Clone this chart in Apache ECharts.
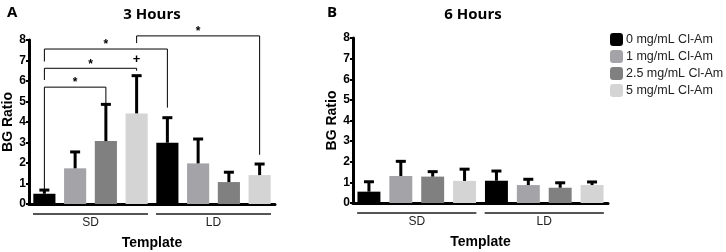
<!DOCTYPE html>
<html>
<head>
<meta charset="utf-8">
<script src="https://cdn.jsdelivr.net/npm/echarts@6/dist/echarts.min.js"></script>
<style>
  html, body { margin: 0; padding: 0; background: #fff; }
  #chart { width: 726px; height: 252px; }
</style>
</head>
<body>
<div id="chart"></div>
<script>
// groups and concentrations
const templates = ['SD', 'LD'];
const concentrations = ['0 mg/mL Cl-Am', '1 mg/mL Cl-Am', '2.5 mg/mL Cl-Am', '5 mg/mL Cl-Am'];
const barColors = ['#000000', '#a4a4a8', '#808080', '#d4d4d4'];
const slots = ['SD 0', 'SD 1', 'SD 2.5', 'SD 5', 'LD 0', 'LD 1', 'LD 2.5', 'LD 5'];
const yTicks = [0, 1, 2, 3, 4, 5, 6, 7, 8];

// bar means and top of error bar
const mean3h = [0.5, 1.74, 3.07, 4.42, 2.99, 1.98, 1.07, 1.41];
const top3h = [0.68, 2.54, 4.86, 6.26, 4.21, 3.17, 1.55, 1.95];
const mean6h = [0.55, 1.31, 1.28, 1.07, 1.08, 0.87, 0.74, 0.87];
const top6h = [1.03, 2.02, 1.52, 1.64, 1.55, 1.15, 0.98, 1.02];

// significance brackets (3 h): from, to, level, left end, right end, mark
const brackets3h = [
  [0, 2, 5.7, 0.72, 4.9, '*'],
  [0, 3, 6.62, 6.05, 6.5, '*'],
  [0, 4, 7.56, 6.95, 4.7, '*'],
  [3, 7, 8.2, 7.85, 2.4, '*']
];
const plusMarks3h = [[3, 6.62, '+']];

const fontFamily = 'Liberation Sans';

const chart = echarts.init(document.getElementById('chart'));

const grids = [
  { left: 29, top: 40, width: 246, height: 164, outerBoundsMode: 'none' },
  { left: 353, top: 38, width: 255, height: 165, outerBoundsMode: 'none' }
];

function barSeries(gi, means) {
  return concentrations.map((name, ci) => ({
    name: name,
    type: 'bar',
    stack: 'g' + gi,
    xAxisIndex: gi * 2,
    yAxisIndex: gi,
    barWidth: '72%',
    itemStyle: { color: barColors[ci] },
    data: means.map((v, i) => (i % 4 === ci ? v : '-'))
  }));
}

function errorSeries(gi, means, tops) {
  return {
    type: 'custom',
    xAxisIndex: gi * 2,
    yAxisIndex: gi,
    z: 5,
    data: means.map((v, i) => [i, v, tops[i]]),
    renderItem: (params, api) => {
      const a = api.coord([api.value(0), api.value(1)]);
      const b = api.coord([api.value(0), api.value(2)]);
      const style = { stroke: '#000', lineWidth: 3 };
      return {
        type: 'group',
        children: [
          { type: 'line', shape: { x1: a[0], y1: a[1], x2: b[0], y2: b[1] }, style },
          { type: 'line', shape: { x1: b[0] - 5, y1: b[1], x2: b[0] + 5, y2: b[1] }, style }
        ]
      };
    }
  };
}

function groupLineSeries(gi) {
  return {
    type: 'custom',
    xAxisIndex: gi * 2,
    yAxisIndex: gi,
    data: templates.map((t, k) => [k * 4, k * 4 + 3]),
    renderItem: (params, api) => {
      const band = api.size([1, 0])[0];
      const a = api.coord([api.value(0), 0]);
      const b = api.coord([api.value(1), 0]);
      const y = a[1] + 10;
      return {
        type: 'line',
        shape: { x1: a[0] - band * 0.37, y1: y, x2: b[0] + band * 0.37, y2: y },
        style: { stroke: '#555', lineWidth: 2 }
      };
    }
  };
}

const bracketSeries = {
  type: 'custom',
  xAxisIndex: 0,
  yAxisIndex: 0,
  z: 6,
  data: brackets3h,
  renderItem: (params, api) => {
    const l = api.coord([api.value(0), api.value(2)]);
    const r = api.coord([api.value(1), api.value(2)]);
    const lEnd = api.coord([api.value(0), api.value(3)]);
    const rEnd = api.coord([api.value(1), api.value(4)]);
    return {
      type: 'group',
      children: [
        {
          type: 'polyline',
          shape: { points: [[l[0], lEnd[1]], l, r, [r[0], rEnd[1]]] },
          style: { stroke: '#000', lineWidth: 1, fill: 'none' }
        },
        {
          type: 'text',
          style: {
            text: brackets3h[params.dataIndex][5],
            x: (l[0] + r[0]) / 2, y: l[1] + 2,
            align: 'center', verticalAlign: 'bottom',
            font: 'bold 12px ' + fontFamily, fill: '#000'
          }
        }
      ]
    };
  }
};

const plusSeries = {
  type: 'custom',
  xAxisIndex: 0,
  yAxisIndex: 0,
  z: 6,
  data: plusMarks3h,
  renderItem: (params, api) => {
    const p = api.coord([api.value(0), api.value(1)]);
    return {
      type: 'text',
      style: {
        text: plusMarks3h[params.dataIndex][2],
        x: p[0], y: p[1] - 2,
        align: 'center', verticalAlign: 'bottom',
        font: 'bold 13px ' + fontFamily, fill: '#000'
      }
    };
  }
};

const axisText = { fontFamily, fontWeight: 'bold', fontSize: 13, color: '#000' };

const xAxes = [];
const yAxes = [];
grids.forEach((g, gi) => {
  xAxes.push({
    type: 'category',
    gridIndex: gi,
    data: slots,
    axisLine: { lineStyle: { color: '#000', width: 3 } },
    axisTick: { alignWithLabel: true, length: 3, lineStyle: { color: '#000', width: 2 } },
    axisLabel: { show: false },
    name: 'Template',
    nameLocation: 'middle',
    nameGap: 32,
    nameTextStyle: { ...axisText, fontSize: 14 }
  });
  xAxes.push({
    type: 'category',
    gridIndex: gi,
    position: 'bottom',
    offset: 10,
    data: templates,
    axisLine: { show: false },
    axisTick: { show: false },
    axisLabel: { fontFamily, fontSize: 12, color: '#222', margin: 3 }
  });
  yAxes.push({
    type: 'value',
    gridIndex: gi,
    min: yTicks[0],
    max: yTicks[yTicks.length - 1],
    interval: 1,
    splitLine: { show: false },
    axisLine: { show: true, lineStyle: { color: '#000', width: 3 } },
    axisTick: { show: true, length: 3, lineStyle: { color: '#000', width: 2 } },
    axisLabel: { ...axisText, fontSize: 12, margin: 3 },
    name: 'BG Ratio',
    nameLocation: 'middle',
    nameRotate: 90,
    nameGap: 13,
    nameTextStyle: { ...axisText, fontSize: 14 }
  });
});

const titleStyle = { fontFamily: 'Open Sans', fontWeight: 'bold', fontSize: 15, color: '#000' };

const option = {
  animation: false,
  backgroundColor: '#fff',
  title: [
    { text: 'A', left: 2, top: 0, textStyle: titleStyle },
    { text: '3 Hours', left: 147, top: 2, textAlign: 'center', textStyle: titleStyle },
    { text: 'B', left: 322, top: 0, textStyle: titleStyle },
    { text: '6 Hours', left: 468, top: 2, textAlign: 'center', textStyle: titleStyle }
  ],
  legend: {
    orient: 'vertical',
    left: 605,
    top: 28,
    itemWidth: 13,
    itemHeight: 13,
    itemGap: 4,
    icon: 'roundRect',
    textStyle: { fontFamily, fontSize: 12.5, color: '#222', padding: [0, 0, 0, -2] },
    data: concentrations
  },
  grid: grids,
  xAxis: xAxes,
  yAxis: yAxes,
  series: [
    ...barSeries(0, mean3h),
    ...barSeries(1, mean6h),
    errorSeries(0, mean3h, top3h),
    errorSeries(1, mean6h, top6h),
    groupLineSeries(0),
    groupLineSeries(1),
    bracketSeries,
    plusSeries
  ]
};

chart.setOption(option);
window.addEventListener('resize', () => chart.resize());
</script>
</body>
</html>
